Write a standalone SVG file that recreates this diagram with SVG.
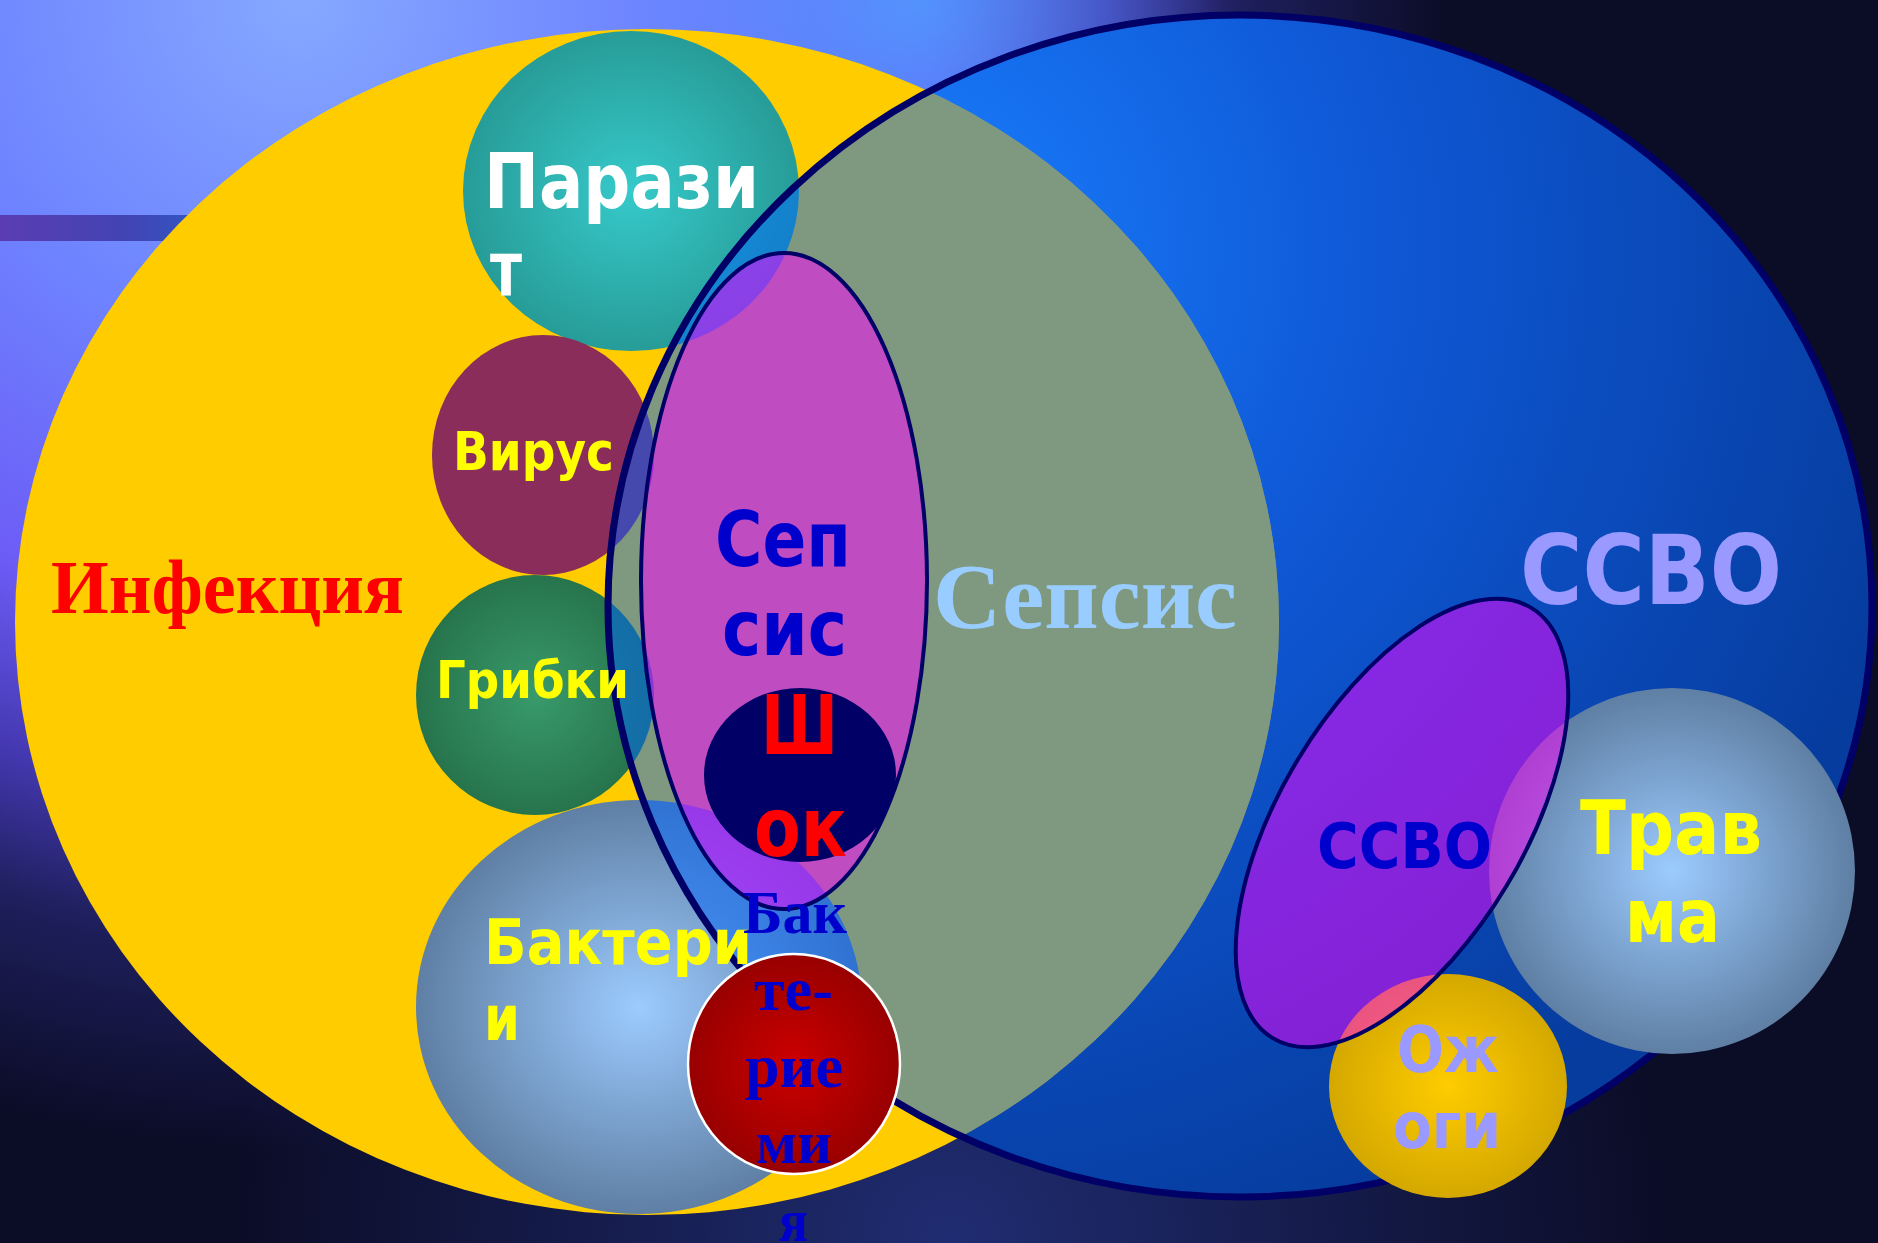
<svg xmlns="http://www.w3.org/2000/svg" width="1878" height="1243" viewBox="0 0 1878 1243">
  <defs>
    <radialGradient id="bgGlow" gradientUnits="userSpaceOnUse" cx="300" cy="0" r="1150">
      <stop offset="0" stop-color="#86a8ff"/>
      <stop offset="0.3" stop-color="#6e84ff"/>
      <stop offset="0.55" stop-color="#6c5cf6"/>
      <stop offset="0.7" stop-color="#4438b0"/>
      <stop offset="0.82" stop-color="#1e1f5c"/>
      <stop offset="1" stop-color="#0b0c26"/>
    </radialGradient>
    <radialGradient id="bgTop" gradientUnits="userSpaceOnUse" cx="920" cy="0" r="300">
      <stop offset="0" stop-color="#4aa4ff" stop-opacity="0.75"/>
      <stop offset="1" stop-color="#4aa4ff" stop-opacity="0"/>
    </radialGradient>
    <radialGradient id="bgLow" gradientUnits="userSpaceOnUse" cx="950" cy="1243" r="720">
      <stop offset="0" stop-color="#22307a" stop-opacity="0.9"/>
      <stop offset="1" stop-color="#22307a" stop-opacity="0"/>
    </radialGradient>
    <linearGradient id="barGrad" x1="0" y1="0" x2="1" y2="0">
      <stop offset="0" stop-color="#5a3cb2"/>
      <stop offset="0.6" stop-color="#4244b4"/>
      <stop offset="1" stop-color="#2f5ac4"/>
    </linearGradient>
    <radialGradient id="blueGrad" gradientUnits="userSpaceOnUse" cx="900" cy="250" r="1050">
      <stop offset="0" stop-color="#1a80ff"/>
      <stop offset="0.45" stop-color="#0f58d6"/>
      <stop offset="1" stop-color="#063c9e"/>
    </radialGradient>
    <radialGradient id="tealGrad">
      <stop offset="0" stop-color="#36caca"/>
      <stop offset="1" stop-color="#279c98"/>
    </radialGradient>
    <radialGradient id="greenGrad">
      <stop offset="0" stop-color="#389a6a"/>
      <stop offset="1" stop-color="#27744c"/>
    </radialGradient>
    <radialGradient id="skyGrad">
      <stop offset="0" stop-color="#9ccbff"/>
      <stop offset="1" stop-color="#5f7fa4"/>
    </radialGradient>
    <radialGradient id="goldGrad">
      <stop offset="0" stop-color="#ffcc00"/>
      <stop offset="1" stop-color="#d4a800"/>
    </radialGradient>
    <radialGradient id="redGrad">
      <stop offset="0" stop-color="#cc0000"/>
      <stop offset="1" stop-color="#980000"/>
    </radialGradient>
    <clipPath id="inInfection">
      <ellipse cx="647" cy="622" rx="632" ry="593"/>
    </clipPath>
    <style>
      .sans { font-family: "DejaVu Sans", Verdana, sans-serif; font-weight: bold; }
      .serif { font-family: "Liberation Serif", "Times New Roman", serif; font-weight: bold; }
      .veil { fill: #ff00ff; fill-opacity: 0.5; stroke: #000066; stroke-width: 4; }
    </style>
  </defs>

  <!-- backdrop -->
  <g id="background">
    <rect width="1878" height="1243" fill="#0b0c26"/>
    <rect width="1878" height="1243" fill="url(#bgGlow)"/>
    <rect width="1878" height="1243" fill="url(#bgTop)"/>
    <rect width="1878" height="1243" fill="url(#bgLow)"/>
    <rect x="0" y="215" width="210" height="26" fill="url(#barGrad)"/>
  </g>

  <!-- SIRS field, seen outside the infection set -->
  <g id="ssvo-field">
    <ellipse cx="1240" cy="606" rx="632" ry="591" fill="url(#blueGrad)"/>
  </g>

  <g id="infection">
    <ellipse cx="647" cy="622" rx="632" ry="593" fill="#ffcc00"/>
  </g>

  <g id="parasite"><ellipse cx="631" cy="191" rx="168" ry="160" fill="url(#tealGrad)"/></g>
  <g id="virus"><ellipse cx="543" cy="455" rx="111" ry="120" fill="#8a2d5a"/></g>
  <g id="fungi"><ellipse cx="535" cy="695" rx="119" ry="120" fill="url(#greenGrad)"/></g>
  <g id="bacteria"><ellipse cx="639" cy="1007" rx="223" ry="207" fill="url(#skyGrad)"/></g>

  <!-- sepsis = infection ∩ SIRS: translucent blue over the infection set -->
  <g id="sepsis-zone">
    <ellipse cx="1240" cy="606" rx="632" ry="591" fill="#0066ff" fill-opacity="0.5" clip-path="url(#inInfection)"/>
    <ellipse cx="1240" cy="606" rx="632" ry="591" fill="none" stroke="#000066" stroke-width="7"/>
  </g>

  <g id="trauma"><ellipse cx="1672" cy="871" rx="183" ry="183" fill="url(#skyGrad)"/></g>
  <g id="burns"><ellipse cx="1448" cy="1086" rx="119" ry="112" fill="url(#goldGrad)"/></g>

  <g id="sepsis-inner"><ellipse class="veil" cx="784" cy="581" rx="143" ry="328"/></g>
  <g id="shock"><ellipse cx="800" cy="775" rx="96" ry="87" fill="#000066"/></g>
  <g id="bacteremia"><ellipse cx="794" cy="1064" rx="106" ry="110" fill="url(#redGrad)" stroke="#ffffff" stroke-width="2.5"/></g>
  <g id="ssvo-inner"><ellipse class="veil" cx="0" cy="0" rx="251" ry="122" transform="translate(1402 823) rotate(-59)"/></g>

  <!-- no connectors in this diagram -->
  <g id="connectors"/>

  <g id="labels">
    <text class="sans" fill="#ffffff" font-size="76" x="484" y="208" textLength="275" lengthAdjust="spacingAndGlyphs">Парази</text>
    <text class="sans" fill="#ffffff" font-size="76" x="490" y="296" textLength="32" lengthAdjust="spacingAndGlyphs">т</text>
    <text class="sans" fill="#ffff00" font-size="54" x="453" y="470" textLength="161" lengthAdjust="spacingAndGlyphs">Вирус</text>
    <text class="sans" fill="#ffff00" font-size="52" x="436" y="698" textLength="193" lengthAdjust="spacingAndGlyphs">Грибки</text>
    <text class="sans" fill="#ffff00" font-size="62" x="484" y="964" textLength="268" lengthAdjust="spacingAndGlyphs">Бактери</text>
    <text class="sans" fill="#ffff00" font-size="62" x="484" y="1040" textLength="36" lengthAdjust="spacingAndGlyphs">и</text>
    <text class="serif" fill="#ff0000" font-size="76" x="51" y="613" textLength="353" lengthAdjust="spacingAndGlyphs">Инфекция</text>
    <text class="serif" fill="#99ccff" font-size="94" x="933" y="628" textLength="304" lengthAdjust="spacingAndGlyphs">Сепсис</text>
    <text class="sans" fill="#0000cc" font-size="76" x="715" y="566" textLength="136" lengthAdjust="spacingAndGlyphs">Сеп</text>
    <text class="sans" fill="#0000cc" font-size="76" x="722" y="655" textLength="125" lengthAdjust="spacingAndGlyphs">сис</text>
    <text class="sans" fill="#ff0000" font-size="82" x="761" y="754" textLength="77" lengthAdjust="spacingAndGlyphs">Ш</text>
    <text class="sans" fill="#ff0000" font-size="82" x="754" y="856" textLength="93" lengthAdjust="spacingAndGlyphs">ок</text>
    <text class="serif" fill="#0000cc" font-size="62" x="743" y="933" textLength="104" lengthAdjust="spacingAndGlyphs">Бак</text>
    <text class="serif" fill="#0000cc" font-size="62" x="754" y="1010" textLength="79" lengthAdjust="spacingAndGlyphs">те-</text>
    <text class="serif" fill="#0000cc" font-size="62" x="745" y="1087" textLength="98" lengthAdjust="spacingAndGlyphs">рие</text>
    <text class="serif" fill="#0000cc" font-size="62" x="756" y="1163" textLength="76" lengthAdjust="spacingAndGlyphs">ми</text>
    <text class="serif" fill="#0000cc" font-size="62" x="779" y="1241" textLength="29" lengthAdjust="spacingAndGlyphs">я</text>
    <text class="sans" fill="#9999ff" font-size="96" x="1520" y="604" textLength="262" lengthAdjust="spacingAndGlyphs">ССВО</text>
    <text class="sans" fill="#0000cc" font-size="63" x="1317" y="868" textLength="175" lengthAdjust="spacingAndGlyphs">ССВО</text>
    <text class="sans" fill="#ffff00" font-size="75" x="1580" y="854" textLength="182" lengthAdjust="spacingAndGlyphs">Трав</text>
    <text class="sans" fill="#ffff00" font-size="75" x="1625" y="942" textLength="95" lengthAdjust="spacingAndGlyphs">ма</text>
    <text class="sans" fill="#9999ff" font-size="64" x="1397" y="1072" textLength="102" lengthAdjust="spacingAndGlyphs">Ож</text>
    <text class="sans" fill="#9999ff" font-size="64" x="1393" y="1148" textLength="108" lengthAdjust="spacingAndGlyphs">оги</text>
  </g>
</svg>
